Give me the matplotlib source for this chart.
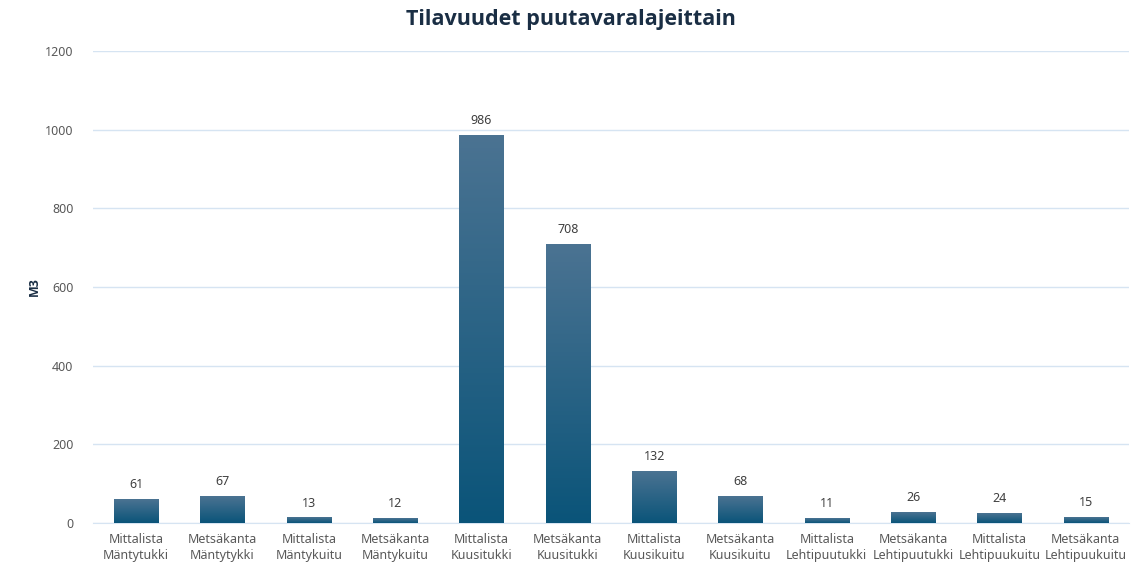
import numpy as np
import matplotlib.pyplot as plt
from matplotlib.colors import LinearSegmentedColormap

# data
categories = [
    "Mittalista\nMäntytukki", "Metsäkanta\nMäntytykki",
    "Mittalista\nMäntykuitu", "Metsäkanta\nMäntykuitu",
    "Mittalista\nKuusitukki", "Metsäkanta\nKuusitukki",
    "Mittalista\nKuusikuitu", "Metsäkanta\nKuusikuitu",
    "Mittalista\nLehtipuutukki", "Metsäkanta\nLehtipuutukki",
    "Mittalista\nLehtipuukuitu", "Metsäkanta\nLehtipuukuitu",
]
volumes = [61, 67, 13, 12, 986, 708, 132, 68, 11, 26, 24, 15]
yticks = [0, 200, 400, 600, 800, 1000, 1200]

plt.rcParams['font.family'] = ['Noto Sans', 'DejaVu Sans']
bold_font = ['Open Sans', 'DejaVu Sans']

fig = plt.figure(figsize=(11.42, 5.70), dpi=100)
ax = fig.add_axes([0.0814, 0.0825, 0.9072, 0.828])

# bar gradient: darker at bottom, lighter at top
cmap = LinearSegmentedColormap.from_list("bar", ["#0a5479", "#4b7392"])
grad = np.linspace(0, 1, 256).reshape(-1, 1)
width = 0.51

x = np.arange(len(categories))
for xi, v in zip(x, volumes):
    ax.imshow(grad, extent=[xi - width / 2, xi + width / 2, 0, v],
              origin="lower", aspect="auto", cmap=cmap, zorder=3)
    ax.annotate(str(v), (xi, v), xytext=(0, 6), textcoords="offset points",
                ha="center", va="bottom", fontsize=9, color="#404040")

ax.set_xlim(-0.5, len(categories) - 0.5)
ax.set_ylim(0, 1200)
ax.set_yticks(yticks)
ax.set_xticks(x)
ax.set_xticklabels(categories, fontsize=9, color="#595959", linespacing=1.35)
ax.tick_params(axis="y", labelsize=9, labelcolor="#595959", length=0, pad=14)
ax.tick_params(axis="x", length=0, pad=7)

ax.grid(axis="y", color="#d6e4f2", linewidth=1, zorder=0)
for s in ["top", "right", "left"]:
    ax.spines[s].set_visible(False)
ax.spines["bottom"].set_color("#d6e4f2")

ax.set_ylabel("M3", fontsize=9, fontweight="bold", family=bold_font,
              color="#1a2e44", labelpad=3)
fig.suptitle("Tilavuudet puutavaralajeittain", fontsize=15.5, fontweight="bold",
             family=bold_font, color="#1a2e44", y=0.985)

fig.savefig("out.png", dpi=100)
